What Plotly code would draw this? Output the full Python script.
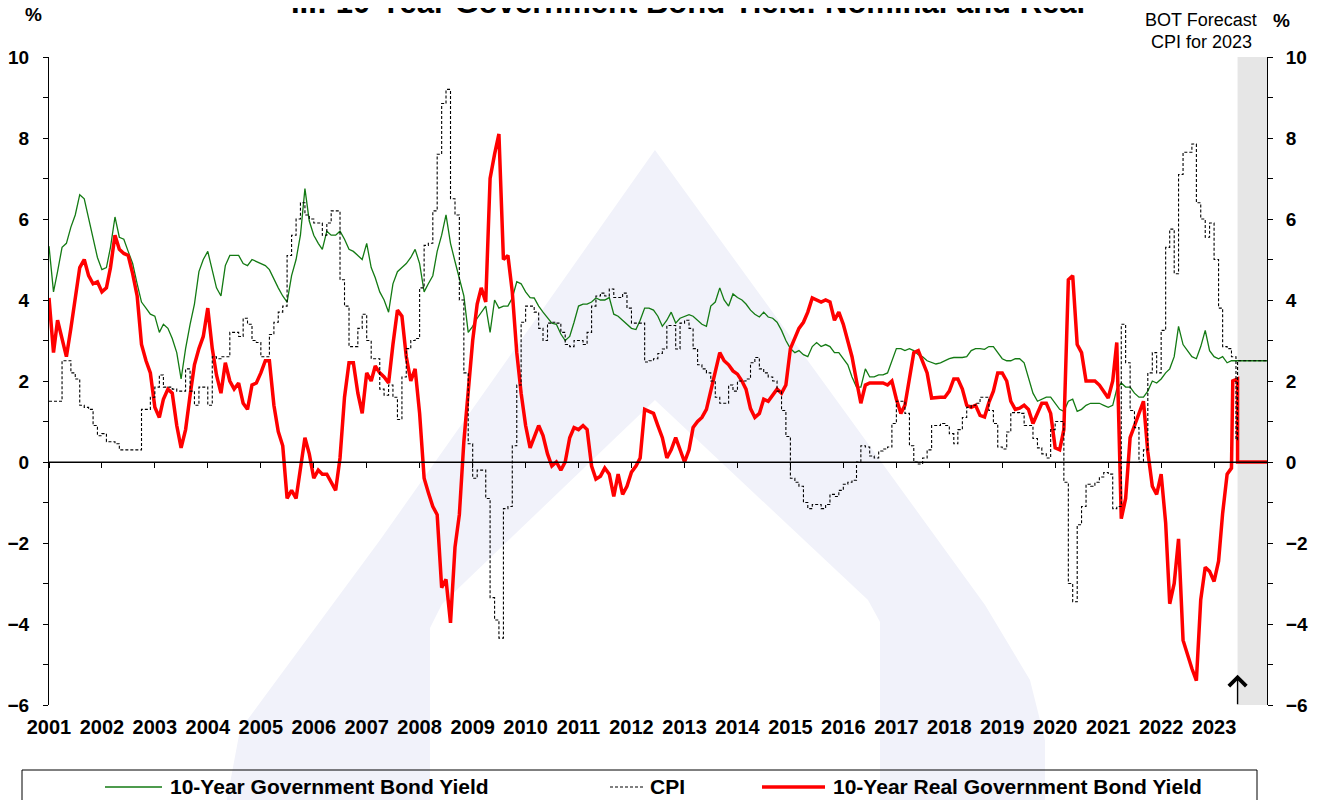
'''
Thai 10-year government bond yield, CPI and the real yield (monthly readings)
'''

import pandas as pd
import plotly.graph_objects as go

# ---- data -------------------------------------------------------------
# monthly readings, first value = Jan 2001, last value = May 2023
bond_yield = [
    5.33, 4.2, 4.7, 5.3, 5.4, 5.8, 6.1, 6.6, 6.5, 6.0, 5.5, 5.05,
    4.75, 4.8, 5.3, 6.05, 5.55, 5.5, 5.2, 4.9, 4.4, 3.95, 3.8, 3.65,
    3.6, 3.2, 3.4, 3.3, 3.05, 2.7, 2.05, 2.8, 3.4, 3.9, 4.7, 5.0,
    5.2, 4.7, 4.3, 4.1, 4.85, 5.1, 5.1, 5.1, 4.9, 4.85, 5.0, 4.95,
    4.9, 4.85, 4.75, 4.5, 4.3, 4.1, 3.95, 4.6, 5.0, 5.6, 6.75, 5.95,
    5.6, 5.4, 5.25, 5.7, 5.6, 5.6, 5.7, 5.5, 5.25, 5.2, 5.1, 5.0,
    5.4, 4.8, 4.55, 4.2, 4.0, 3.7, 4.4, 4.7, 4.8, 4.9, 5.05, 5.25,
    4.9, 4.2, 4.4, 4.6, 5.2, 5.6, 6.1, 5.4, 4.95, 4.5, 4.1, 3.2,
    3.35, 3.55, 3.7, 3.85, 3.2, 4.0, 3.8, 3.85, 3.85, 4.05, 4.45, 4.4,
    4.2, 4.06, 4.05, 3.85, 3.7, 3.55, 3.43, 3.4, 3.16, 3.0, 3.1, 3.45,
    3.85, 3.9, 3.9, 3.95, 4.05, 4.0, 4.0, 4.06, 3.65, 3.6, 3.5, 3.4,
    3.3, 3.27, 3.5, 3.8, 3.8, 3.75, 3.6, 3.35, 3.5, 3.7, 3.43, 3.55,
    3.6, 3.64, 3.6, 3.5, 3.4, 3.35, 3.85, 3.95, 4.3, 4.0, 3.85, 4.15,
    4.06, 4.0, 3.9, 3.75, 3.65, 3.58, 3.7, 3.58, 3.55, 3.45, 3.25, 3.0,
    2.8, 2.7, 2.75, 2.65, 2.6, 2.85, 2.95, 2.85, 2.9, 2.85, 2.7, 2.7,
    2.55, 2.4, 2.1, 1.85, 1.85, 2.3, 2.1, 2.1, 2.15, 2.15, 2.2, 2.5,
    2.8, 2.8, 2.75, 2.8, 2.75, 2.65, 2.6, 2.5, 2.45, 2.42, 2.45, 2.5,
    2.55, 2.58, 2.58, 2.58, 2.6, 2.75, 2.8, 2.8, 2.78, 2.85, 2.85, 2.7,
    2.55, 2.5, 2.5, 2.55, 2.55, 2.45, 2.1, 1.7, 1.5, 1.55, 1.6, 1.6,
    1.45, 1.3, 1.25, 1.5, 1.55, 1.25, 1.3, 1.4, 1.45, 1.45, 1.45, 1.4,
    1.35, 1.4, 1.8, 1.95, 1.85, 1.85, 1.7, 1.6, 1.6, 1.75, 2.0, 1.95,
    2.05, 2.2, 2.3, 2.6, 3.35, 2.9, 2.75, 2.6, 2.55, 2.85, 3.25, 2.75,
    2.6, 2.55, 2.6, 2.45, 2.5,
]

real_yield = [
    4.05, 2.7, 3.5, 3.0, 2.6, 3.3, 4.05, 4.8, 5.0, 4.6, 4.4, 4.45,
    4.2, 4.3, 4.8, 5.6, 5.25, 5.15, 5.1, 4.65, 4.1, 2.9, 2.5, 2.2,
    1.35, 1.1, 1.55, 1.8, 1.7, 0.9, 0.35, 0.8, 1.65, 2.4, 2.8, 3.1,
    3.8, 2.8, 2.15, 1.7, 2.45, 2.0, 1.8, 1.95, 1.45, 1.3, 1.9, 1.95,
    2.2, 2.5, 2.5, 1.4, 0.75, 0.4, -0.9, -0.7, -0.9, -0.2, 0.6, 0.2,
    -0.4, -0.2, -0.3, -0.3, -0.5, -0.7, 0.1, 1.6, 2.45, 2.45, 1.7, 1.2,
    2.2, 2.0, 2.37, 2.2, 2.1, 1.95, 2.9, 3.75, 3.6, 2.6, 2.0, 2.3,
    1.2, -0.4, -0.75, -1.1, -1.3, -3.1, -2.9, -3.97, -2.1, -1.3, 0.5, 1.85,
    3.0, 3.9, 4.3, 3.95, 7.0, 7.6, 8.1, 5.0, 5.1, 4.2, 2.7, 1.7,
    0.9, 0.35, 0.63, 0.9, 0.65, 0.2, -0.1, 0.0, -0.2, 0.0, 0.6, 0.85,
    0.8, 0.9, 0.8, -0.1, -0.42, -0.35, -0.15, -0.3, -0.85, -0.3, -0.8, -0.6,
    -0.25, -0.1, 0.1, 1.3, 1.25, 1.2, 0.9, 0.6, 0.1, 0.3, 0.6, 0.3,
    0.0, 0.3, 0.85, 1.0, 1.1, 1.3, 1.75, 2.3, 2.7, 2.5, 2.4, 2.25,
    2.17, 2.0, 1.8, 1.32, 1.1, 1.2, 1.55, 1.5, 1.65, 1.8, 1.7, 1.9,
    2.8, 3.05, 3.3, 3.45, 3.7, 4.05, 4.0, 3.95, 4.0, 3.95, 3.5, 3.7,
    3.4, 3.0, 2.6, 2.0, 1.45, 1.9, 1.95, 1.95, 1.95, 1.95, 1.9, 2.0,
    1.55, 1.2, 1.4, 2.06, 2.7, 2.75, 2.5, 2.2, 1.58, 1.6, 1.6, 1.6,
    1.75, 2.05, 2.05, 1.8, 1.4, 1.35, 1.4, 1.15, 1.11, 1.47, 1.75, 2.2,
    2.2, 2.0, 1.5, 1.3, 1.33, 1.4, 1.3, 0.95, 1.2, 1.45, 1.45, 1.2,
    0.35, 0.3, 0.8, 4.5, 4.6, 2.9, 2.7, 2.0, 2.0, 2.0, 1.9, 1.75,
    1.58, 2.0, 2.95, -1.4, -0.9, 0.6, 0.9, 1.2, 1.5, 0.25, -0.6, -0.8,
    -0.3, -1.5, -3.5, -3.0, -1.9, -4.4, -4.75, -5.1, -5.4, -3.4, -2.6, -2.7,
    -2.95, -2.45, -1.27, -0.3, -0.15,
]

# CPI, headline, % y-o-y, Jan 2001 .. Jun 2023 (drawn as steps)
cpi = [
    1.5, 1.5, 1.5, 2.5, 2.5, 2.2, 2.05, 1.4, 1.35, 1.3, 0.9, 0.65,
    0.7, 0.5, 0.5, 0.45, 0.3, 0.3, 0.3, 0.3, 0.3, 1.3, 1.3, 1.6,
    1.85, 2.15, 1.85, 1.85, 1.8, 1.75, 1.75, 2.3, 1.75, 1.4, 1.85, 1.85,
    1.4, 2.6, 2.55, 2.6, 2.6, 3.2, 3.2, 3.1, 3.55, 3.4, 3.0, 2.95,
    2.6, 2.6, 3.15, 3.45, 3.7, 3.85, 5.1, 5.6, 6.0, 6.4, 6.1, 6.0,
    5.9, 5.9, 5.6, 5.9, 6.2, 6.2, 4.5, 3.85, 2.85, 2.85, 3.3, 3.65,
    3.0, 2.55, 2.55, 1.8, 1.65, 1.9, 1.6, 1.05, 2.1, 2.8, 3.0, 3.05,
    4.3, 5.35, 5.4, 6.2, 7.6, 8.85, 9.2, 6.5, 6.1, 4.0, 2.2, 0.45,
    -0.4, -0.2, -0.2, -0.9, -3.35, -3.9, -4.35, -1.15, -1.1, 0.4, 1.9, 3.45,
    3.85, 3.85, 3.7, 3.3, 3.0, 3.43, 3.45, 3.43, 3.2, 2.9, 2.85, 3.0,
    3.0, 2.9, 3.2, 3.85, 4.1, 4.17, 4.1, 4.27, 4.06, 4.06, 4.17, 3.8,
    3.43, 3.43, 3.43, 2.47, 2.5, 2.55, 2.68, 2.79, 3.37, 3.37, 2.79, 3.43,
    3.5, 3.3, 2.8, 2.4, 2.3, 2.2, 2.0, 1.6, 1.45, 1.45, 1.9, 1.75,
    2.0, 2.0, 2.05, 2.45, 2.58, 2.3, 2.2, 2.1, 2.0, 1.75, 1.27, 0.63,
    -0.4, -0.5, -0.6, -1.0, -1.15, -1.05, -1.05, -1.15, -1.05, -0.8, -0.85, -0.7,
    -0.55, -0.5, -0.45, 0.0, 0.4, 0.37, 0.15, 0.1, 0.27, 0.32, 0.37, 0.95,
    1.5, 1.5, 1.2, 0.4, 0.0, -0.05, 0.1, 0.3, 0.9, 0.9, 0.95, 0.9,
    0.7, 0.45, 0.8, 1.1, 1.35, 1.4, 1.45, 1.6, 1.6, 1.27, 0.95, 0.37,
    0.32, 0.74, 1.22, 1.22, 1.2, 0.9, 0.9, 0.58, 0.35, 0.2, 0.1, 0.8,
    1.0, 1.0, -0.5, -3.0, -3.45, -1.55, -1.1, -0.55, -0.6, -0.5, -0.37, -0.26,
    -0.3, -1.15, -1.1, 3.4, 2.45, 1.27, 0.85, 0.0, 0.3, 2.2, 2.7, 2.2,
    3.25, 5.3, 5.75, 4.65, 7.1, 7.65, 7.65, 7.85, 6.4, 6.0, 5.55, 5.9,
    5.0, 3.8, 2.85, 2.8, 2.6, 0.55,
]

# last daily readings before the forecast period
real_tail_dates = ['2023-05-10', '2023-06-12']
real_tail = [2.0, 2.05]
bond_tail_dates = ['2023-06-12']
bond_tail = [2.5]

# BOT forecast CPI for 2023 (shaded period)
forecast_dates = ['2023-06-12', '2024-01-01']
bond_forecast = [2.5, 2.5]
cpi_forecast = [2.5, 2.5]
real_forecast = [0.0, 0.0]

years = list(range(2001, 2024))

FONT = 'Arial, Liberation Sans, sans-serif'

# the page adds an 8px body margin, so the figure is drawn 8px smaller
OFFSET = 8
W, H = 1328 - OFFSET, 800 - OFFSET
# plot area in screen pixels (used for the watermark, legend box and texts)
PL, PR, PT, PB = 49, 1267, 57, 705


def px(x):
    return (x - PL) / (PR - PL)


def py(y):
    return (PB - y) / (PB - PT)


def watermark_shapes():
    '''faint logo behind the chart'''
    outer = [(655, 150), (985, 605), (1030, 680), (1045, 740), (1045, 810),
             (225, 810), (240, 730), (262, 700), (380, 540)]
    inner = [(655, 400), (868, 600), (880, 622), (880, 810), (430, 810),
             (430, 628), (442, 604)]
    shapes = []
    for pts, col in [(outer, '#f1f2fa'), (inner, 'white')]:
        path = 'M ' + ' L '.join('%.4f,%.4f' % (px(a), py(b)) for a, b in pts) + ' Z'
        shapes.append(dict(type='path', path=path, xref='paper', yref='paper',
                           fillcolor=col, line=dict(width=0), layer='below'))
    return shapes


def text(s, x, y, size=19, bold=True, xanchor='center', yanchor='middle'):
    '''annotation placed by screen pixel position'''
    return dict(text=s, x=px(x), y=py(y), xref='paper', yref='paper', showarrow=False,
                xanchor=xanchor, yanchor=yanchor,
                font=dict(family=FONT, size=size, color='black',
                          weight='bold' if bold else 'normal'))


def build_figure():

    assert len(bond_yield) == 269 and len(real_yield) == 269 and len(cpi) == 270

    months = pd.date_range('2001-01-01', periods=269, freq='MS')
    cpi_months = pd.date_range('2001-01-01', periods=270, freq='MS')

    bond_x = list(months.strftime('%Y-%m-%d')) + bond_tail_dates + forecast_dates
    bond_y = bond_yield + bond_tail + bond_forecast
    cpi_x = list(cpi_months.strftime('%Y-%m-%d')) + forecast_dates
    cpi_y = cpi + cpi_forecast
    real_x = list(months.strftime('%Y-%m-%d')) + real_tail_dates + forecast_dates
    real_y = real_yield + real_tail + real_forecast

    fig = go.Figure()

    fig.add_trace(go.Scatter(x=bond_x, y=bond_y, mode='lines',
                             line=dict(color='#137a13', width=1.3),
                             name='10-Year Government Bond Yield', showlegend=False))
    fig.add_trace(go.Scatter(x=cpi_x, y=cpi_y, mode='lines', yaxis='y2',
                             line=dict(color='black', width=1.1, dash='3px,2px', shape='hv'),
                             name='CPI', showlegend=False))
    fig.add_trace(go.Scatter(x=real_x, y=real_y, mode='lines',
                             line=dict(color='#ff0000', width=3.5),
                             name='10-Year Real Government Bond Yield', showlegend=False))
    # zero line carrying the year ticks
    fig.add_trace(go.Scatter(x=['2001-01-01', '2024-01-01'], y=[0, 0], mode='lines',
                             xaxis='x2', line=dict(color='black', width=1),
                             hoverinfo='skip', showlegend=False))

    tickvals = ['%d-01-01' % y for y in years]
    yaxis_style = dict(range=[-6, 10], tickmode='linear', tick0=-6, dtick=2,
                       ticks='outside', ticklen=5, tickcolor='black',
                       minor=dict(tickmode='linear', tick0=-6, dtick=1, ticks='outside',
                                  ticklen=5, tickcolor='black'),
                       showline=True, linecolor='black', linewidth=1,
                       showgrid=False, zeroline=False, automargin=False,
                       tickfont=dict(family=FONT, size=19, color='black', weight='bold'))

    shapes = watermark_shapes()
    # forecast period
    shapes.append(dict(type='rect', xref='x', yref='paper', x0=forecast_dates[0],
                       x1=forecast_dates[1], y0=0, y1=1, fillcolor='#e6e6e6',
                       line=dict(width=0), layer='below'))

    # hand-made legend (longer line samples than plotly's own)
    ly = py(787)
    shapes.append(dict(type='rect', xref='paper', yref='paper', x0=px(22), x1=px(1257),
                       y0=py(806), y1=py(770), line=dict(color='black', width=1)))
    shapes.append(dict(type='line', xref='paper', yref='paper', x0=px(105), x1=px(162),
                       y0=ly, y1=ly, line=dict(color='#137a13', width=1.5)))
    shapes.append(dict(type='line', xref='paper', yref='paper', x0=px(610), x1=px(643),
                       y0=ly, y1=ly, line=dict(color='black', width=1.1, dash='3px,2px')))
    shapes.append(dict(type='line', xref='paper', yref='paper', x0=px(762), x1=px(825),
                       y0=ly, y1=ly, line=dict(color='#ff0000', width=3.5)))

    annotations = [
        # only the lower part of the title shows at the top edge
        text('III: 10-Year Government Bond Yield: Nominal and Real', 688, 22, size=31,
             yanchor='bottom'),
        text('%', 33, 15),
        text('%', 1281, 20),
        text('BOT Forecast', 1201, 20, size=18, bold=False),
        text('CPI for 2023', 1201, 42, size=18, bold=False),
        text('10-Year Government Bond Yield', 168, 787, size=21, xanchor='left'),
        text('CPI', 648, 787, size=21, xanchor='left'),
        text('10-Year Real Government Bond Yield', 831, 787, size=21, xanchor='left'),
        # arrow marking the start of the forecast
        dict(x=forecast_dates[0], y=-5.25, xref='x', yref='y', text='', showarrow=True,
             arrowhead=4, arrowsize=2.4, arrowwidth=1.4, arrowcolor='black',
             ax=0, ay=31),
    ]

    fig.update_layout(
        width=W, height=H,
        margin=dict(l=PL - OFFSET, r=1328 - PR, t=PT - OFFSET, b=800 - PB,
                    pad=0, autoexpand=False),
        paper_bgcolor='white', plot_bgcolor='rgba(0,0,0,0)',
        showlegend=False,
        xaxis=dict(type='date', range=['2001-01-01', '2024-01-01'],
                   tickmode='array', tickvals=tickvals, ticktext=[str(y) for y in years],
                   ticks='', showline=False, showgrid=False, zeroline=False,
                   automargin=False, ticklabelstandoff=8,
                   tickfont=dict(family=FONT, size=20, color='black', weight='bold')),
        xaxis2=dict(type='date', range=['2001-01-01', '2024-01-01'], overlaying='x',
                    anchor='free', position=0.375, tickmode='array', tickvals=tickvals,
                    showticklabels=False, ticks='outside', ticklen=5, tickcolor='black',
                    showline=True, linecolor='black', linewidth=1, showgrid=False,
                    zeroline=False, automargin=False),
        yaxis=dict(yaxis_style, ticklabelstandoff=10),
        yaxis2=dict(yaxis_style, overlaying='y', side='right', ticklabelstandoff=9),
        shapes=shapes,
        annotations=annotations,
    )

    return fig


def main():
    fig = build_figure()
    fig.write_html('out.html')


if __name__ == '__main__':
    main()
